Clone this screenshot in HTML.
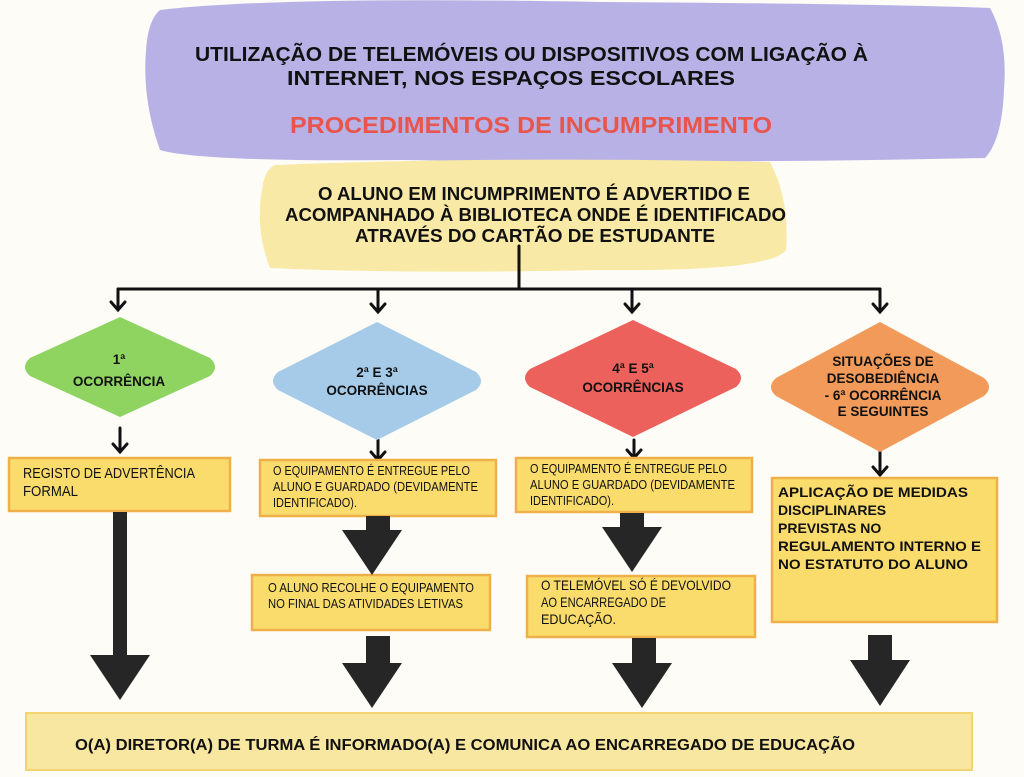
<!DOCTYPE html>
<html><head><meta charset="utf-8"><style>
html,body{margin:0;padding:0;background:#fdfcf7;}
svg{display:block}
text{font-family:"Liberation Sans",sans-serif;font-weight:bold;}
text.n{font-weight:normal;}
</style></head><body>
<svg width="1024" height="777" viewBox="0 0 1024 777" xmlns="http://www.w3.org/2000/svg">
<rect width="1024" height="777" fill="#fdfcf7"/>
<path d="M160,10 Q280,-4 600,2 Q900,4 990,8 Q1008,40 1004,90 Q1002,140 985,158 Q700,164 400,160 Q200,162 160,150 Q142,100 146,50 Q148,20 160,10Z" fill="#b8b1e6"/>
<text x="195" y="61" font-size="20" fill="#111" textLength="673" lengthAdjust="spacingAndGlyphs">UTILIZAÇÃO DE TELEMÓVEIS OU DISPOSITIVOS COM LIGAÇÃO À</text>
<text x="287" y="85" font-size="20" fill="#111" textLength="448" lengthAdjust="spacingAndGlyphs">INTERNET, NOS ESPAÇOS ESCOLARES</text>
<text x="290" y="133" font-size="23" fill="#e8554c" textLength="482" lengthAdjust="spacingAndGlyphs">PROCEDIMENTOS DE INCUMPRIMENTO</text>
<path d="M275,165 Q500,156 770,162 Q790,200 786,250 Q770,272 600,270 Q400,274 270,268 Q255,230 262,190 Q264,170 275,165Z" fill="#f8e9a6"/>
<text x="318" y="200" font-size="18" fill="#111" textLength="432" lengthAdjust="spacingAndGlyphs">O ALUNO EM INCUMPRIMENTO É ADVERTIDO E</text>
<text x="285" y="221" font-size="18" fill="#111" textLength="501" lengthAdjust="spacingAndGlyphs">ACOMPANHADO À BIBLIOTECA ONDE É IDENTIFICADO</text>
<text x="355" y="242" font-size="18" fill="#111" textLength="360" lengthAdjust="spacingAndGlyphs">ATRAVÉS DO CARTÃO DE ESTUDANTE</text>
<g stroke="#111" stroke-width="3" fill="none" stroke-linecap="round">
<line x1="519" y1="246" x2="519" y2="289"/>
<line x1="118" y1="289" x2="880" y2="289"/>
<path d="M118,289 V310 M111,302 L118,310 L125,302"/>
<path d="M378,289 V312 M371,304 L378,312 L385,304"/>
<path d="M632,289 V312 M625,304 L632,312 L639,304"/>
<path d="M880,289 V312 M873,304 L880,312 L887,304"/>
<path d="M120,428 V452 M113,444 L120,452 L127,444"/>
<path d="M378,440 V458 M371,452 L378,460 L385,452"/>
<path d="M634,440 V456 M627,450 L634,458 L641,450"/>
<path d="M880,452 V474 M873,467 L880,475 L887,467"/>
</g>
<path d="M120,317 L210,358 Q220,367 210,376 L120,417 L30,376 Q20,367 30,358Z" fill="#8fd461"/>
<path d="M377,322 L476,372 Q486,381 476,390 L377,440 L278,390 Q268,381 278,372Z" fill="#a6cbe8"/>
<path d="M633,320 L736,369 Q746,378 736,387 L633,437 L530,387 Q520,378 530,369Z" fill="#ec615c"/>
<path d="M880,322 L984,378 Q994,387 984,396 L880,452 L776,396 Q766,387 776,378Z" fill="#f19a5a"/>
<g font-size="13.5" text-anchor="middle" fill="#111">
<text x="119" y="364">1ª</text><text x="119" y="386">OCORRÊNCIA</text>
<text x="377" y="377">2ª E 3ª</text><text x="377" y="395">OCORRÊNCIAS</text>
<text x="633" y="373">4ª E 5ª</text><text x="633" y="392">OCORRÊNCIAS</text>
<text x="883" y="366">SITUAÇÕES DE</text><text x="883" y="383">DESOBEDIÊNCIA</text><text x="883" y="400">- 6ª OCORRÊNCIA</text><text x="883" y="416">E SEGUINTES</text>
</g>
<g fill="#f9dc6c" stroke="#f0b049" stroke-width="2.5">
<rect x="9" y="458" width="221" height="53"/>
<rect x="260" y="460" width="236" height="56"/>
<rect x="516" y="458" width="236" height="54"/>
<rect x="252" y="575" width="238" height="55"/>
<rect x="527" y="576" width="228" height="61"/>
<rect x="772" y="478" width="225" height="144"/>
</g>
<g fill="#111">
<text class="n" x="23" y="478" font-size="15" textLength="172" lengthAdjust="spacingAndGlyphs">REGISTO DE ADVERTÊNCIA</text>
<text class="n" x="23" y="496" font-size="15" textLength="55" lengthAdjust="spacingAndGlyphs">FORMAL</text>
<text class="n" x="273" y="475" font-size="12.5" textLength="197" lengthAdjust="spacingAndGlyphs">O EQUIPAMENTO É ENTREGUE PELO</text>
<text class="n" x="273" y="491" font-size="12.5" textLength="205" lengthAdjust="spacingAndGlyphs">ALUNO E GUARDADO (DEVIDAMENTE</text>
<text class="n" x="273" y="507" font-size="12.5" textLength="84" lengthAdjust="spacingAndGlyphs">IDENTIFICADO).</text>
<text class="n" x="530" y="473" font-size="12.5" textLength="197" lengthAdjust="spacingAndGlyphs">O EQUIPAMENTO É ENTREGUE PELO</text>
<text class="n" x="530" y="489" font-size="12.5" textLength="205" lengthAdjust="spacingAndGlyphs">ALUNO E GUARDADO (DEVIDAMENTE</text>
<text class="n" x="530" y="505" font-size="12.5" textLength="84" lengthAdjust="spacingAndGlyphs">IDENTIFICADO).</text>
<text class="n" x="268" y="592" font-size="12.5" textLength="206" lengthAdjust="spacingAndGlyphs">O ALUNO RECOLHE O EQUIPAMENTO</text>
<text class="n" x="268" y="608" font-size="12.5" textLength="195" lengthAdjust="spacingAndGlyphs">NO FINAL DAS ATIVIDADES LETIVAS</text>
<text class="n" x="541" y="590" font-size="14" textLength="190" lengthAdjust="spacingAndGlyphs">O TELEMÓVEL SÓ É DEVOLVIDO</text>
<text class="n" x="541" y="607" font-size="14" textLength="125" lengthAdjust="spacingAndGlyphs">AO ENCARREGADO DE</text>
<text class="n" x="541" y="624" font-size="14" textLength="75" lengthAdjust="spacingAndGlyphs">EDUCAÇÃO.</text>
</g>
<g fill="#111" font-size="14">
<text x="778" y="497" textLength="190" lengthAdjust="spacingAndGlyphs">APLICAÇÃO DE MEDIDAS</text>
<text x="778" y="515">DISCIPLINARES</text>
<text x="778" y="533">PREVISTAS NO</text>
<text x="778" y="551" textLength="203" lengthAdjust="spacingAndGlyphs">REGULAMENTO INTERNO E</text>
<text x="778" y="569" textLength="190" lengthAdjust="spacingAndGlyphs">NO ESTATUTO DO ALUNO</text>
</g>
<g fill="#262626">
<rect x="113" y="512" width="14" height="145"/><polygon points="90,655 150,655 120,700"/>
<rect x="366" y="516" width="24" height="16"/><polygon points="342,530 402,530 372,575"/>
<rect x="366" y="636" width="24" height="30"/><polygon points="342,663 402,663 372,708"/>
<rect x="620" y="513" width="24" height="16"/><polygon points="602,527 662,527 632,572"/>
<rect x="632" y="638" width="24" height="28"/><polygon points="612,663 672,663 642,708"/>
<rect x="868" y="635" width="24" height="28"/><polygon points="850,660 910,660 880,706"/>
</g>
<rect x="26" y="713" width="946" height="57" fill="#f8e7a0" stroke="#f3d372" stroke-width="2"/>
<text x="75" y="750" font-size="15.5" fill="#111" textLength="780" lengthAdjust="spacingAndGlyphs">O(A) DIRETOR(A) DE TURMA É INFORMADO(A)  E COMUNICA AO ENCARREGADO DE EDUCAÇÃO</text>
</svg>
</body></html>
